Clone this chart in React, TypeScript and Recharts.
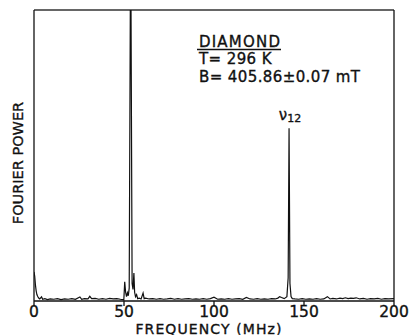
import { LineChart, Line, XAxis, YAxis, ReferenceLine, ReferenceDot } from "recharts";

// Fourier transform spectrum, frequency in MHz vs power (arbitrary units, full scale 100)
const freqMHz = [
  0, 0.4, 0.8, 1.2, 1.6, 2.0, 2.6, 3.2, 4.2, 4.8, 6, 7.5, 9, 11, 13, 15, 17, 19, 21, 23,
  25.5, 26.5, 28, 30, 31, 32, 34, 36, 38, 40, 42, 44, 46, 48, 49.4, 49.9, 50.4, 50.9, 51.4,
  51.9, 52.4, 52.9, 53.5, 53.9, 54.5, 55.0, 55.5, 55.9, 56.4, 57, 57.6, 58.5, 59.5, 60.6,
  61.2, 62, 64, 66, 68, 70, 72, 74, 76, 78, 80, 82, 84, 86, 88, 90, 92, 94, 96, 98, 100,
  102, 104, 106, 108, 110, 112, 114, 116, 118, 120, 122, 124, 126, 128, 130, 132, 134,
  135.5, 136.5, 137.5, 139, 140.5, 141.2, 141.7, 142.2, 142.8, 143.5, 145, 147, 149, 151,
  153, 155, 157, 159, 161, 163, 164.5, 166, 168, 170, 171.5, 173, 174.5, 176, 177.5, 179,
  181, 183, 185, 187, 189, 191, 193, 195, 197, 200,
];

const fourierPower = [
  10.0, 8.5, 5.5, 3.5, 2.2, 1.6, 1.0, 0.7, 1.4, 0.6, 0.8, 0.5, 0.7, 0.6, 0.8, 0.5, 0.7, 0.6, 0.8, 0.6,
  1.4, 0.6, 0.8, 0.7, 1.6, 0.8, 0.9, 0.6, 0.8, 0.6, 0.9, 0.7, 0.8, 0.6, 0.5, 0.3, 6.6, 3.0, 1.5,
  2.8, 1.8, 4.5, 100, 100, 6.0, 4.0, 9.6, 3.0, 1.5, 2.2, 0.8, 1.0, 0.7, 2.7,
  0.8, 1.0, 0.7, 0.8, 0.6, 0.8, 0.6, 0.7, 0.9, 0.6, 0.8, 0.6, 0.7, 0.8, 0.6, 0.7, 0.6, 0.8, 0.6, 0.8, 1.3,
  0.6, 0.7, 0.6, 0.8, 0.6, 0.7, 0.8, 0.6, 1.2, 0.7, 0.6, 0.8, 0.6, 0.7, 0.6, 0.8, 0.7,
  1.0, 1.5, 1.2, 0.8, 1.5, 8.0, 59.4, 6.0, 1.5, 0.8, 0.7, 0.6, 0.8, 0.6,
  0.7, 0.6, 0.8, 0.6, 0.7, 1.5, 0.7, 0.9, 0.7, 1.0, 0.8, 1.1, 0.8, 1.0, 0.9, 1.1,
  0.7, 0.9, 0.6, 0.8, 0.7, 0.9, 0.6, 0.8, 0.7, 0.8,
];

const freqTicks = [0, 50, 100, 150, 200];

const sampleName = "DIAMOND";
const conditions = ["T= 296 K", "B= 405.86±0.07 mT"];
const nu12Freq = 141.7;

const data = freqMHz.map((f, i) => ({ f, p: fourierPower[i] }));
const nu12Power = fourierPower[freqMHz.indexOf(nu12Freq)];

const FONT = "'DejaVu Sans', sans-serif";
const INK = "#111";
// slight outline so the lettering reads as heavy as pen-drawn text
const heavy = { stroke: INK, strokeWidth: 0.35 };

export default function App() {
  return (
    <div style={{ position: "absolute", left: 0, top: 0, background: "#fff" }}>
      <LineChart
        width={409}
        height={335}
        data={data}
        margin={{ top: 10, right: 15, left: 0, bottom: 0 }}
      >
        <XAxis
          dataKey="f"
          type="number"
          domain={[0, 200]}
          ticks={freqTicks}
          interval={0}
          allowDataOverflow
          height={34}
          tickSize={5}
          tickMargin={0}
          axisLine={{ stroke: INK, strokeWidth: 1.3 }}
          tickLine={{ stroke: INK, strokeWidth: 1.3 }}
          tick={{ fill: INK, fontSize: 15.5, fontFamily: FONT, ...heavy }}
        />
        <YAxis
          type="number"
          domain={[0, 100]}
          allowDataOverflow
          width={34}
          tick={false}
          tickLine={false}
          axisLine={{ stroke: INK, strokeWidth: 1.3 }}
        />
        <ReferenceLine y={100} stroke="#333" strokeWidth={1.3} />
        <ReferenceLine x={200} stroke={INK} strokeWidth={1.3} />
        <Line
          type="linear"
          dataKey="p"
          stroke={INK}
          strokeWidth={1.2}
          dot={false}
          isAnimationActive={false}
        />
        <ReferenceDot
          x={nu12Freq}
          y={nu12Power}
          r={0}
          label={{
            content: (props: any) => {
              const vb = props.viewBox || {};
              return (
                <text
                  x={vb.x + 1}
                  y={vb.y - 8}
                  textAnchor="middle"
                  fill={INK}
                  fontFamily={FONT}
                  fontSize={15}
                  {...heavy}
                >
                  ν<tspan fontSize={11} dy={2}>12</tspan>
                </text>
              );
            },
          }}
        />

        <text x={199} y={46.5} fill={INK} fontFamily={FONT} fontSize={15} letterSpacing={1.2} {...heavy}>
          {sampleName}
        </text>
        <line x1={197} x2={281} y1={49.5} y2={49.5} stroke={INK} strokeWidth={1.3} />
        {conditions.map((line, i) => (
          <text
            key={line}
            x={199}
            y={64 + i * 18}
            fill={INK}
            fontFamily={FONT}
            fontSize={15}
            letterSpacing={0.4}
            {...heavy}
          >
            {line}
          </text>
        ))}

        <text
          x={18}
          y={163}
          transform="rotate(-90 18 163)"
          textAnchor="middle"
          dominantBaseline="central"
          fill={INK}
          fontFamily={FONT}
          fontSize={14.5}
          {...heavy}
        >
          FOURIER POWER
        </text>
        <text
          x={209}
          y={333.5}
          textAnchor="middle"
          fill={INK}
          fontFamily={FONT}
          fontSize={14}
          letterSpacing={1.1}
          {...heavy}
        >
          FREQUENCY (MHz)
        </text>
      </LineChart>
    </div>
  );
}
